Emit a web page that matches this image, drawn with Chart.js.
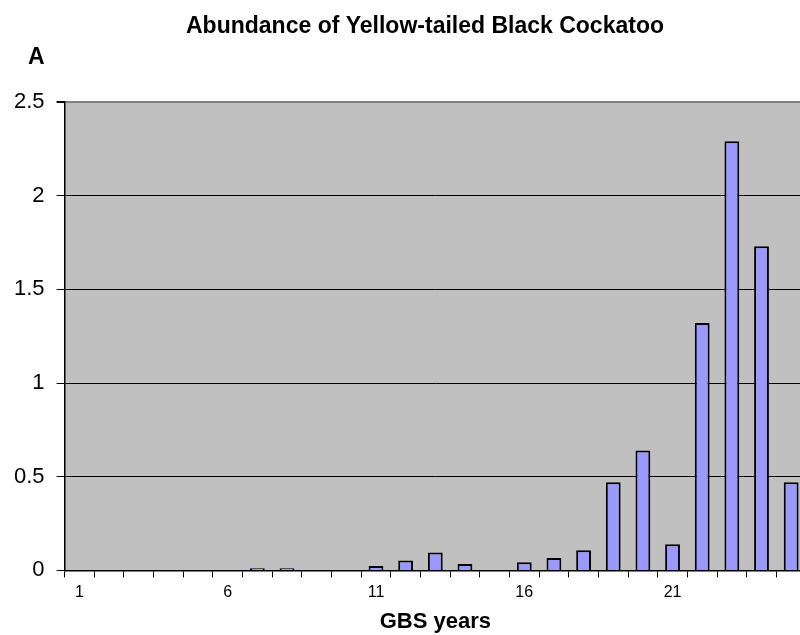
<!DOCTYPE html>
<html>
<head>
<meta charset="utf-8">
<script src="https://cdn.jsdelivr.net/npm/chart.js@4/dist/chart.umd.min.js"></script>
<style>
  html, body { margin: 0; padding: 0; background: #fff; overflow: hidden; }
  #wrap { width: 800px; height: 635px; overflow: hidden; }
  #box { width: 806px; height: 635px; }
</style>
</head>
<body>
<div id="wrap"><div id="box"><canvas id="c"></canvas></div></div>
<script>
const years = ['1','2','3','4','5','6','7','8','9','10','11','12','13','14','15','16','17','18','19','20','21','22','23','24','25'];
const abundance = [0,0,0,0,0,0,0.012,0.012,0,0,0.023,0.053,0.096,0.034,0,0.043,0.066,0.107,0.47,0.64,0.14,1.32,2.29,1.73,0.47];
const yTicks = [0, 0.5, 1, 1.5, 2, 2.5];
const titleText = 'Abundance of Yellow-tailed Black Cockatoo';
const panelLabel = 'A';
const xTitle = 'GBS years';

const FONT = "'Liberation Sans', Arial, sans-serif";

const decoPlugin = {
  id: 'deco',
  beforeDraw(chart) {
    const a = chart.chartArea, ctx = chart.ctx;
    ctx.save();
    ctx.fillStyle = '#c0c0c0';
    ctx.fillRect(a.left, a.top, a.right - a.left, a.bottom - a.top);
    ctx.restore();
  },
  afterDraw(chart) {
    const ctx = chart.ctx;
    ctx.save();
    ctx.fillStyle = '#000';
    ctx.font = "bold 23px " + FONT;
    ctx.textAlign = 'center';
    ctx.textBaseline = 'alphabetic';
    ctx.fillText(titleText, 425, 33);
    ctx.textAlign = 'left';
    ctx.fillText(panelLabel, 28, 64);
    ctx.restore();
  }
};

new Chart(document.getElementById('c'), {
  type: 'bar',
  data: {
    labels: years,
    datasets: [{
      data: abundance,
      backgroundColor: '#9999ff',
      borderColor: '#000000',
      borderWidth: 2,
      barPercentage: 0.5,
      categoryPercentage: 1.0
    }]
  },
  options: {
    responsive: true,
    maintainAspectRatio: false,
    animation: false,
    layout: { padding: { left: 2, right: 0, top: 102, bottom: 0 } },
    plugins: {
      legend: { display: false },
      tooltip: { enabled: false },
      title: { display: false }
    },
    scales: {
      x: {
        offset: true,
        grid: {
          offset: true,
          drawOnChartArea: false,
          drawTicks: true,
          tickLength: 7,
          tickColor: '#000',
          tickWidth: 1
        },
        border: { color: '#000', width: 1.5 },
        ticks: {
          autoSkip: false,
          maxRotation: 0,
          color: '#000',
          font: { family: FONT, size: 16 },
          padding: 6,
          callback: function(v, i) { return (i % 5 === 0) ? years[i] : ''; }
        },
        title: {
          display: true,
          text: xTitle,
          color: '#000',
          font: { family: FONT, size: 22, weight: 'bold' },
          padding: { top: 0, bottom: 0 }
        }
      },
      y: {
        min: 0,
        max: 2.5,
        afterBuildTicks(axis) { axis.ticks = yTicks.map(v => ({ value: v })); },
        grid: {
          color: ctx => (ctx.tick && ctx.tick.value === 2.5) ? '#808080' : '#000',
          lineWidth: ctx => (ctx.tick && ctx.tick.value === 2.5) ? 2 : 1,
          tickColor: '#000',
          tickLength: 8,
          drawTicks: true
        },
        border: { color: '#000', width: 1.5 },
        ticks: {
          color: '#000',
          font: { family: FONT, size: 22 },
          padding: 12,
          callback: v => String(v)
        }
      }
    }
  },
  plugins: [decoPlugin]
});
</script>
</body>
</html>
